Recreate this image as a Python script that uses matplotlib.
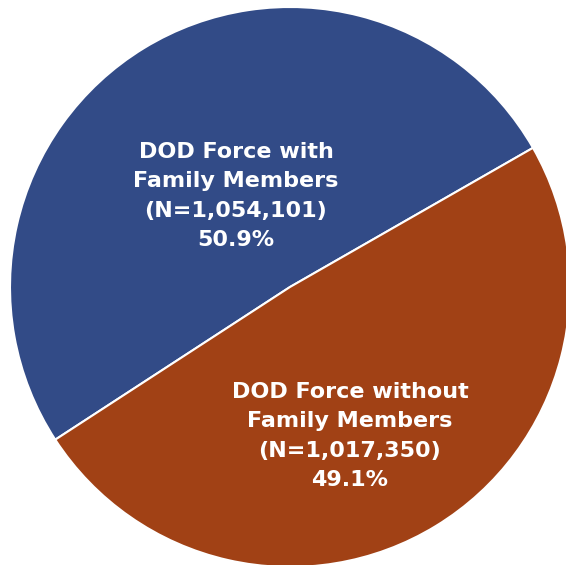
import matplotlib.pyplot as plt

labels = ['DOD Force with\nFamily Members\n(N=1,054,101)\n50.9%',
          'DOD Force without\nFamily Members\n(N=1,017,350)\n49.1%']
shares = [50.9, 49.1]
colors = ['#324B87', '#A14115']
label_pos = [(-0.193, 0.325), (0.214, -0.532)]

fig = plt.figure(figsize=(5.66, 5.65), dpi=100)
# pie is slightly larger than the canvas (cut at right and bottom)
ax = fig.add_axes([10 / 566, -2 / 565, 560 / 566, 560 / 565])

wedges, _ = ax.pie(shares, colors=colors, startangle=29.8, counterclock=True,
                   wedgeprops={'edgecolor': 'white', 'linewidth': 1.5})

for txt, (x, y) in zip(labels, label_pos):
    ax.text(x, y, txt, ha='center', va='center', color='white',
            fontsize=16, fontweight='bold', linespacing=1.6,
            family='DejaVu Sans')

ax.set_xlim(-1, 1)
ax.set_ylim(-1, 1)
ax.set_aspect('equal')
ax.axis('off')

fig.savefig('out.png', dpi=100)
